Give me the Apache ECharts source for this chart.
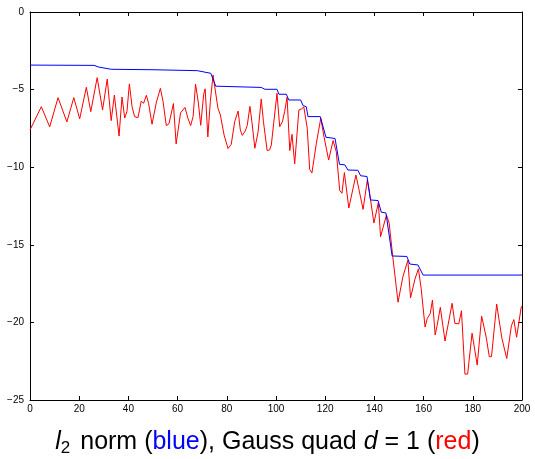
<!DOCTYPE html>
<html>
<head>
<meta charset="utf-8">
<script src="https://cdn.jsdelivr.net/npm/echarts@6/dist/echarts.min.js"></script>
<style>html,body{margin:0;padding:0;background:#fff;}#c{width:535px;height:459px;}</style>
</head>
<body>
<div id="c"></div>
<script>
// x-axis ticks
const xTicks = [0, 20, 40, 60, 80, 100, 120, 140, 160, 180, 200];
const yTicks = [-25, -20, -15, -10, -5, 0];

// Blue: l2 norm (step-like curve), breakpoints
const blueX = [0, 26, 28, 33, 50, 68, 73.5, 75.5, 94, 95.5, 100.4, 101.2, 104.2, 105.2, 110, 111, 112.3, 113, 118, 120.3, 124, 125.8, 128, 129.2, 133.3, 134.4, 137, 138.4, 141.5, 142.8, 144.7, 147.2, 153.2, 154.4, 157.7, 159.8, 200];
const blueY = [-3.42, -3.44, -3.55, -3.69, -3.72, -3.78, -3.95, -4.78, -4.86, -4.98, -4.98, -5.3, -5.3, -5.67, -5.67, -6.03, -6.1, -6.74, -6.74, -8.07, -8.15, -9.81, -9.85, -10.18, -10.2, -10.55, -10.6, -12.11, -12.15, -12.9, -12.95, -15.72, -15.75, -16.24, -16.3, -16.95, -16.95];

// Red: Gauss quad d = 1
const redX = [0, 4.6, 8.0, 11.4, 15.0, 17.8, 20.2, 22.9, 24.7, 27.3, 28.0, 29.5, 31.4, 33.0, 34.3, 35.1, 36.2, 37.4, 38.5, 39.4, 40.4, 41.5, 42.5, 43.9, 45.2, 46.2, 47.3, 48.2, 49.6, 51.4, 53.0, 54.1, 55.4, 56.5, 58.3, 59.4, 61.2, 63.0, 64.2, 65.3, 66.3, 67.3, 68.4, 69.4, 70.6, 71.2, 72.3, 73.3, 74.4, 76.4, 77.4, 78.9, 80.5, 81.8, 83.2, 84.6, 85.5, 86.3, 87.5, 88.3, 89.4, 90.2, 91.4, 92.7, 94.0, 94.9, 96.4, 97.4, 98.1, 99.2, 100.4, 101.5, 102.6, 103.5, 104.5, 105.6, 106.5, 107.6, 109.3, 110.3, 111.3, 112.7, 113.7, 114.6, 116.4, 118.2, 119.5, 121.4, 123.2, 124.5, 125.9, 126.8, 127.8, 128.5, 129.6, 132.5, 133.0, 135.4, 137.1, 137.8, 139.8, 141.6, 142.5, 143.2, 144.9, 146.0, 147.4, 149.6, 151.6, 153.6, 154.7, 156.5, 157.9, 159.0, 160.6, 161.5, 162.7, 163.6, 164.7, 165.5, 166.8, 168.7, 169.4, 171.6, 172.7, 174.3, 175.4, 176.8, 177.9, 179.7, 181.8, 183.6, 185.5, 186.7, 187.6, 189.7, 191.8, 193.8, 195.7, 196.7, 197.8, 199.7, 200];
const redY = [-7.6, -6.1, -7.4, -5.52, -7.08, -5.52, -6.88, -4.85, -6.42, -4.23, -4.23, -6.31, -4.32, -7.0, -5.35, -5.35, -7.99, -5.48, -6.83, -6.42, -4.63, -6.1, -6.74, -6.81, -5.75, -5.88, -5.37, -5.88, -7.23, -5.8, -4.92, -5.78, -7.32, -7.2, -5.9, -8.5, -6.5, -6.15, -6.85, -7.32, -6.74, -4.65, -5.8, -7.3, -5.3, -4.95, -8.05, -5.78, -4.06, -6.2, -6.64, -7.93, -8.8, -8.53, -7.07, -6.38, -7.6, -7.95, -7.67, -7.32, -6.08, -7.07, -8.78, -7.75, -5.6, -7.07, -8.93, -8.89, -8.57, -6.96, -5.24, -7.39, -7.07, -6.42, -5.5, -8.93, -7.88, -9.78, -6.31, -6.25, -6.12, -7.49, -10.15, -10.37, -8.46, -6.85, -8.03, -9.54, -8.28, -9.0, -11.5, -11.68, -10.35, -10.33, -12.63, -10.5, -10.6, -12.72, -10.85, -11.4, -13.6, -12.29, -14.48, -14.48, -13.08, -13.6, -15.66, -18.7, -17.05, -16.0, -18.42, -17.2, -16.55, -17.8, -20.3, -19.74, -19.43, -18.56, -20.81, -20.2, -19.03, -21.2, -21.15, -18.77, -20.06, -20.1, -19.25, -23.33, -23.33, -20.7, -22.75, -19.6, -21.0, -22.21, -22.21, -18.82, -21.0, -22.33, -20.2, -19.82, -20.96, -19.0, -18.95];

const zip = (xs, ys) => xs.map((x, i) => [x, ys[i]]);
const minus = v => String(v).replace('-', '\u2212');
const FONT = '"Liberation Sans", Arial, sans-serif';

const chart = echarts.init(document.getElementById('c'), null, {renderer: 'canvas'});

const axisCommon = {
  axisLine: {show: true, onZero: false, lineStyle: {color: '#000', width: 1}},
  axisTick: {show: true, inside: true, length: 4, lineStyle: {color: '#000'}},
  splitLine: {show: false}
};

chart.setOption({
  animation: false,
  backgroundColor: '#fff',
  grid: {left: 30, right: 13, top: 12, bottom: 59, containLabel: false},
  title: {
    text: '{i|l}{sub|2} norm ({b|blue}), Gauss quad {i|d} = 1 ({r|red})',
    left: 'center',
    top: 423,
    textStyle: {
      fontFamily: FONT, fontSize: 25, fontWeight: 'normal', color: '#000',
      rich: {
        i: {fontFamily: FONT, fontSize: 25, fontStyle: 'italic', color: '#000'},
        sub: {fontFamily: FONT, fontSize: 17, color: '#000', verticalAlign: 'bottom', padding: [12, 3, 0, 0]},
        b: {fontFamily: FONT, fontSize: 25, color: '#0000ff'},
        r: {fontFamily: FONT, fontSize: 25, color: '#ff0000'}
      }
    }
  },
  xAxis: [
    Object.assign({}, axisCommon, {
      type: 'value', position: 'bottom', min: xTicks[0], max: xTicks[xTicks.length - 1], interval: 20,
      axisLabel: {show: true, color: '#000', fontFamily: FONT, fontSize: 10, margin: 4, formatter: minus}
    }),
    Object.assign({}, axisCommon, {
      type: 'value', position: 'top', min: xTicks[0], max: xTicks[xTicks.length - 1], interval: 20,
      axisLabel: {show: false}
    })
  ],
  yAxis: [
    Object.assign({}, axisCommon, {
      type: 'value', position: 'left', min: yTicks[0], max: yTicks[yTicks.length - 1], interval: 5,
      axisLabel: {show: true, color: '#000', fontFamily: FONT, fontSize: 10, margin: 6, formatter: minus}
    }),
    Object.assign({}, axisCommon, {
      type: 'value', position: 'right', min: yTicks[0], max: yTicks[yTicks.length - 1], interval: 5,
      axisLabel: {show: false}
    })
  ],
  series: [
    {
      type: 'line', name: 'l2 norm', data: zip(blueX, blueY), xAxisIndex: 0, yAxisIndex: 0,
      showSymbol: false, lineStyle: {color: '#0000ff', width: 1}, z: 3
    },
    {
      type: 'line', name: 'Gauss quad', data: zip(redX, redY), xAxisIndex: 0, yAxisIndex: 0,
      showSymbol: false, lineStyle: {color: '#ff0000', width: 1}, z: 2
    }
  ]
});
</script>
</body>
</html>
